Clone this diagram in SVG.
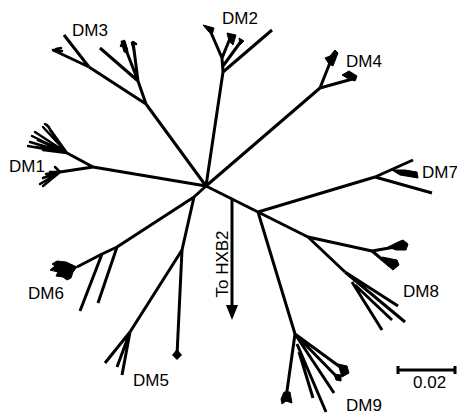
<svg xmlns="http://www.w3.org/2000/svg" width="457" height="415" viewBox="0 0 457 415">
<style>
.b{fill:none;stroke:#000;stroke-width:3;stroke-linecap:butt;stroke-linejoin:round}
.t{fill:none;stroke:#000;stroke-width:2.5;stroke-linecap:round}
.f{fill:#000;stroke:#000;stroke-width:1;stroke-linejoin:round}
.lbl{font-family:"Liberation Sans",Arial,sans-serif;font-size:17px;fill:#000}
</style>
<rect width="457" height="415" fill="#fff"/>
<g id="connectors">
<path class="b" d="M206,186 L146,104 M146,104 L89,67 M146,104 L138,81 M206,186 L223,72 M206,186 L320,88 M206,186 L93,167 M206,186 L194,197 M194,197 L117,247 L102,254 L77,267 M194,197 L182,250 M206,186 L258,212 M258,212 L375,177 M258,212 L308,237 M308,237 L372,251 M308,237 L345,272 M258,212 L295,334 M182,250 L130,332"/>
<path class="b" d="M232,199 L232,306"/>
<polygon points="226,305 238,305 232,320" fill="#000"/>
</g>
<g id="DM3">
<path class="b" d="M89,67 L64,35 M89,67 L53,50 M138,81 L100,48 M138,81 L123,42 M138,81 L133,42"/>
<path class="t" d="M53,50 L62,51 M56,49 L61,48 M123,42 L121,46 M122,43 L126,52 M124,41 L127,50 M133,42 L136,44 M132,43 L134,50"/>
<polygon class="f" points="121,41 125,41 128,52 124,52"/>
<text class="lbl" x="72" y="36">DM3</text>
</g>
<g id="DM2">
<path class="b" d="M223,72 L272,30 M223,72 L222,58 M222,58 L209,28 M222,58 L231,36 M223,66 L242,40"/>
<polygon class="f" points="203,25 214,28 212,35 208,31"/>
<polygon class="f" points="227,33 236,35 233,45 229,41"/>
<polygon class="f" points="239,38 244,41 240,45"/>
<text class="lbl" x="222" y="24">DM2</text>
</g>
<g id="DM4">
<path class="b" d="M320,88 L333,55 M320,88 L356,78"/>
<polygon class="f" points="325,58 330,56 335,50 338,53 333,66 329,64"/>
<polygon class="f" points="342,75 349,71 357,76 355,81 347,78"/>
<text class="lbl" x="346" y="67">DM4</text>
</g>
<g id="DM1">
<path class="b" d="M93,167 L67,153 M93,167 L60,172"/>
<path class="t" d="M67,153 L47,125 M67,153 L43,127 M67,153 L35,132 M67,153 L32,136 M67,153 L30,142 M67,153 L28,146 M67,153 L43,150 M67,153 L38,140 M67,153 L50,130 M67,153 L36,147 M45,124 L49,127 M60,172 L40,184 M60,172 L43,186 M60,172 L50,172 M60,172 L43,178 M60,172 L55,167 M60,172 L48,180 M60,172 L46,174"/>
<text class="lbl" x="9" y="172">DM1</text>
</g>
<g id="DM6">
<path class="b" d="M117,247 L98,303 M102,254 L80,311"/>
<polygon class="f" points="77,267 66,262 57,261 52,264 55,266 50,270 58,272 56,276 63,277 67,280 71,278 73,272"/>
<text class="lbl" x="28" y="299">DM6</text>
</g>
<g id="DM5">
<path class="b" d="M182,250 L177,355 M130,332 L105,363 M130,332 L117,367 M130,332 L122,375"/>
<polygon points="177,349 182,355 177,360 172,355" fill="#000"/>
<text class="lbl" x="133" y="386">DM5</text>
</g>
<g id="DM7">
<path class="b" d="M375,177 L413,160 M375,177 L432,193"/>
<polygon class="f" points="392,170 405,170 417,172 418,178 400,175"/>
<text class="lbl" x="422" y="178">DM7</text>
</g>
<g id="DM8">
<path class="b" d="M372,251 L395,247 M372,251 L390,266 M345,272 L398,306 M345,272 L405,322 M352,282 L382,330 M355,285 L392,320"/>
<polygon class="f" points="388,247 398,242 403,240 408,244 406,250 396,250"/>
<polygon class="f" points="382,257 397,260 399,265 393,270 386,264"/>
<text class="lbl" x="403" y="297">DM8</text>
</g>
<g id="DM9">
<path class="b" d="M295,334 L347,372 M295,334 L340,380 M295,334 L334,393 M297,344 L326,412 M299,352 L313,398 M295,334 L286,398"/>
<polygon class="f" points="338,364 347,366 349,373 342,377"/>
<polygon class="f" points="334,374 341,375 341,381 336,380"/>
<polygon class="f" points="284,392 290,392 292,403 286,401 282,404 281,399"/>
<text class="lbl" x="346" y="411">DM9</text>
</g>
<g id="scalebar">
<path class="b" d="M397,370 L456,370" stroke-width="2.5"/>
<path class="b" d="M398,366 L398,374 M455,366 L455,374" stroke-width="2"/>
<text class="lbl" x="413" y="388">0.02</text>
</g>
<g id="HXB2">
<text class="lbl" transform="translate(228,264) rotate(-90)" text-anchor="middle">To HXB2</text>
</g>
</svg>
